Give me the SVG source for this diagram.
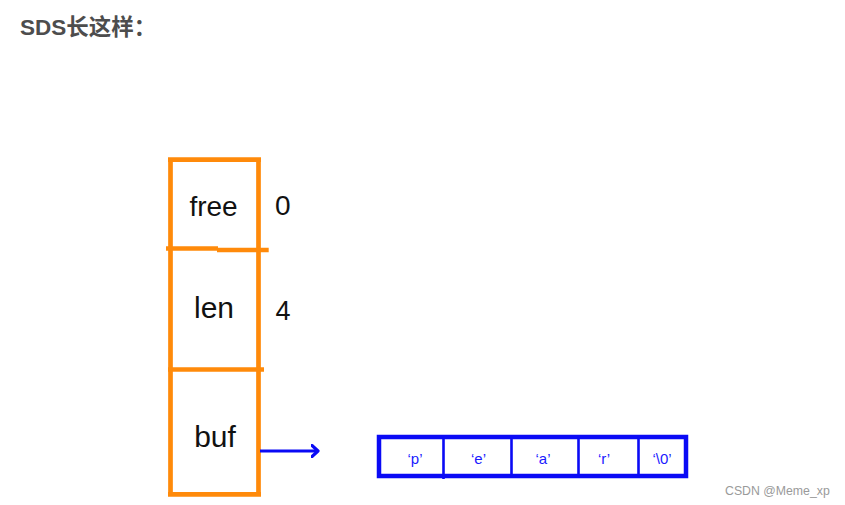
<svg xmlns="http://www.w3.org/2000/svg" width="845" height="505" viewBox="0 0 845 505">
<style>
.title{font-family:"Liberation Sans","Noto Sans CJK SC",sans-serif;font-weight:bold;font-size:22.5px;fill:#4d4d4d}
.lbl{font-family:"Liberation Sans",Arial,sans-serif;fill:#111;text-anchor:middle}
.val{font-family:"Liberation Sans",Arial,sans-serif;fill:#111}
.ch{font-family:"Liberation Sans",Arial,sans-serif;font-size:15px;fill:#1a1aff;text-anchor:middle}
.or{stroke:#ff8a0a;stroke-width:4.7;fill:none}
.bl{stroke:#0a0af5;fill:none}
.wm{font-family:"Liberation Sans",Arial,sans-serif;font-size:12.3px;fill:#9a9a9a}
</style>
<defs>
<marker id="arr" markerWidth="10" markerHeight="14" refX="7.5" refY="7" orient="auto" markerUnits="userSpaceOnUse">
<polyline points="1.5,1.5 7.5,7 1.5,12.5" fill="none" stroke="#0a0af5" stroke-width="3.2" stroke-linecap="round" stroke-linejoin="round"/>
</marker>
</defs>
<rect width="845" height="505" fill="#fff"/>
<text class="title" x="20" y="34.5">SDS长这样：</text>
<g id="sds">
<g id="free">
<path class="or" d="M170.5,157.5 V249 M258.5,157.5 V249 M168,159.7 H261 M166,248.5 H218 M217,250 H268.7"/>
<text class="lbl" x="213.5" y="215.7" font-size="28">free</text>
<text class="val" x="275" y="215" font-size="28">0</text>
</g>
<g id="len">
<path class="or" d="M170.5,249 V369.5 M258.5,249 V369.5 M168,369.5 H264"/>
<text class="lbl" x="214" y="318.3" font-size="30">len</text>
<text class="val" x="275.5" y="320" font-size="27">4</text>
</g>
<g id="buf">
<path class="or" d="M170.5,369.5 V496.6 M258.5,369.5 V496.6 M168,494.3 H261"/>
<text class="lbl" x="215" y="447" font-size="30">buf</text>
</g>
</g>
<g id="array">
<rect class="bl" x="379" y="437" width="307" height="39" stroke-width="4.5"/>
<path class="bl" stroke-width="2.6" d="M443.5,437 V479 M511.5,437 V476 M578.5,437 V476 M638.5,437 V476"/>
<text class="ch" x="415" y="463.5">‘p’</text>
<text class="ch" x="478.5" y="463.5">‘e’</text>
<text class="ch" x="543" y="463.5">‘a’</text>
<text class="ch" x="604" y="463.5">‘r’</text>
<text class="ch" x="662" y="463.5">‘\0’</text>
</g>
<g id="connectors">
<line class="bl" x1="260" y1="451" x2="318" y2="451" stroke-width="3" marker-end="url(#arr)"/>
</g>
<text class="wm" x="725" y="495">CSDN @Meme_xp</text>
</svg>
